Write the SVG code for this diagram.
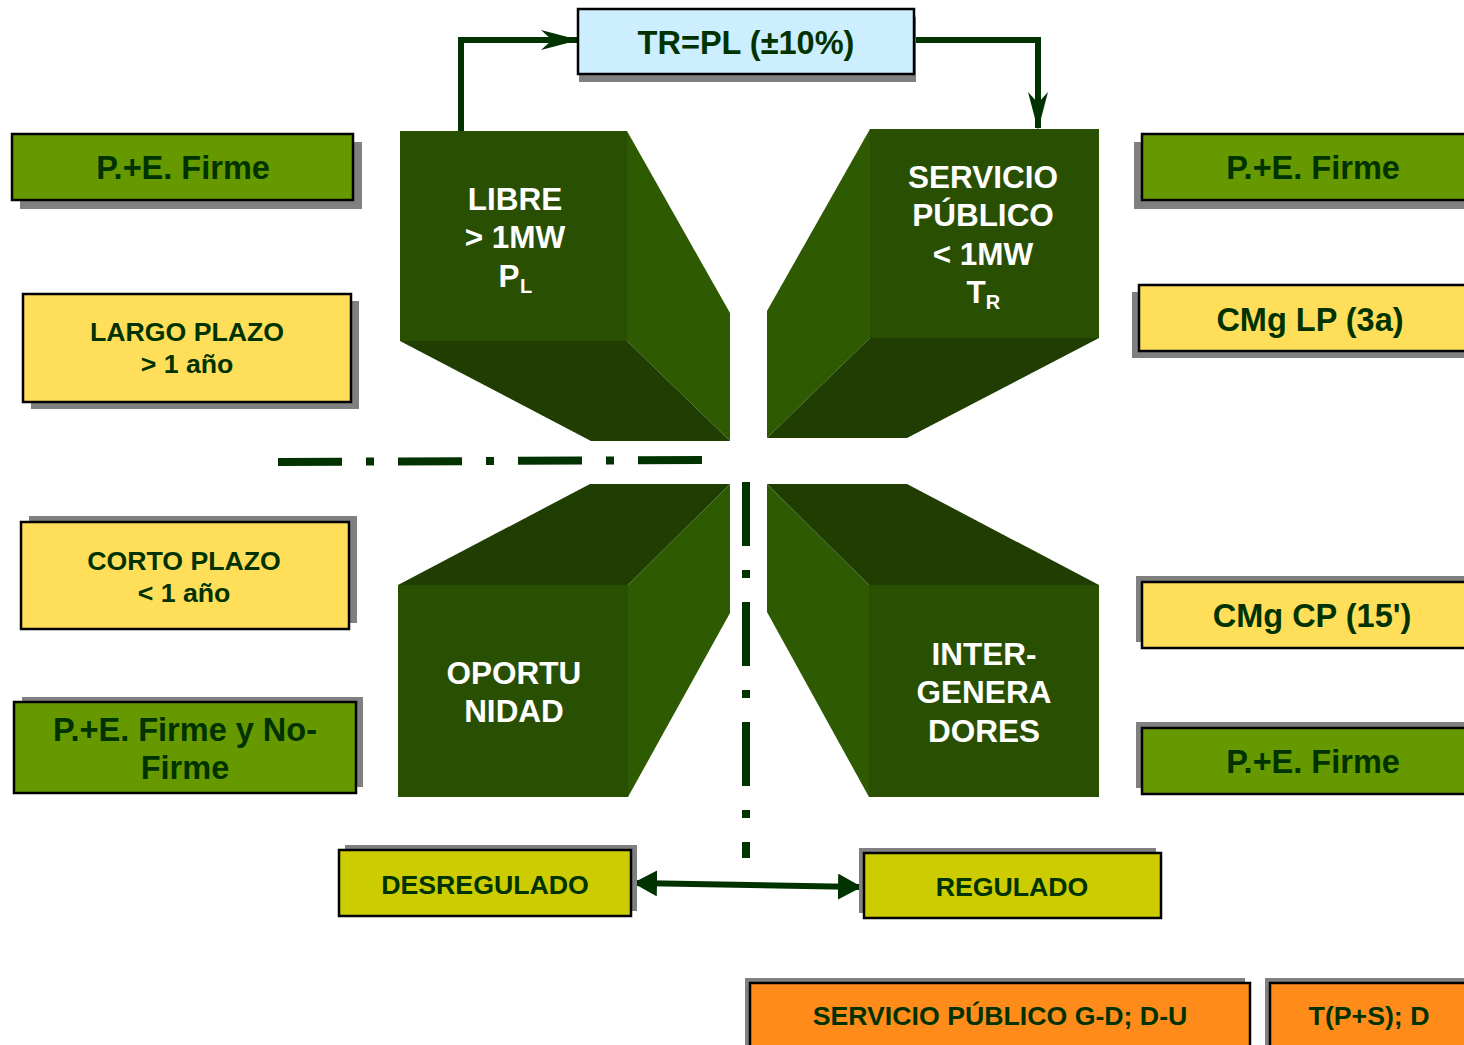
<svg xmlns="http://www.w3.org/2000/svg" width="1464" height="1045" viewBox="0 0 1464 1045">
<style>
text{font-family:"Liberation Sans",Arial,sans-serif;font-weight:bold;text-anchor:middle;dominant-baseline:central}
.w{fill:#ffffff;font-size:31.5px}
.t{fill:#003300}
.big{font-size:32.5px}
.sm{font-size:26.7px}
.front{fill:#294f02}
.side{fill:#2e5a01}
.dark{fill:#203d02}
.sh{fill:#808080}
.box{stroke:#000;stroke-width:2.5}
.g{fill:#669900}
.y{fill:#ffde59}
.b{fill:#cceeff}
.o{fill:#ff8c1a}
.k{fill:#cccc00}
.conn{fill:none;stroke:#003300;stroke-width:6}
.dd{fill:none;stroke:#003300;stroke-width:8;stroke-dasharray:64 24 8 24}
</style>
<defs>
<marker id="stealth" markerUnits="userSpaceOnUse" viewBox="0 0 38 24" refX="36" refY="12" markerWidth="38" markerHeight="24" orient="auto">
<path d="M0,2 L38,12 L0,22 L11,12 Z" fill="#003300"/>
</marker>
<marker id="tri" markerUnits="userSpaceOnUse" viewBox="0 0 24 26" refX="22" refY="13" markerWidth="24" markerHeight="26" orient="auto-start-reverse">
<path d="M0,0 L24,13 L0,26 Z" fill="#003300"/>
</marker>
</defs>

<g id="connectors">
<path class="conn" d="M461,131 V40 H577" marker-end="url(#stealth)"/>
<path class="conn" d="M914,40 H1038 V128" marker-end="url(#stealth)"/>
<path class="dd" d="M278,462 L702,460"/>
<path class="dd" d="M746,482 V858"/>
<path class="conn" d="M635,883 L860,887" marker-start="url(#tri)" marker-end="url(#tri)"/>
</g>

<g id="libre">
<polygon class="side" points="627,131 730,313 730,441 627,341"/>
<polygon class="dark" points="400,341 627,341 730,441 591,441"/>
<rect class="front" x="400" y="131" width="227" height="210"/>
<text class="w" x="515" y="199">LIBRE</text>
<text class="w" x="515" y="237">&gt; 1MW</text>
<text class="w" x="509" y="276">P</text>
<text x="526" y="286" fill="#fff" style="font-size:20px">L</text>
</g>

<g id="servicio">
<polygon class="side" points="870,129 767,311 767,438 870,338"/>
<polygon class="dark" points="767,438 870,338 1099,338 907,438"/>
<rect class="front" x="870" y="129" width="229" height="209"/>
<text class="w" x="983" y="177">SERVICIO</text>
<text class="w" x="983" y="215">PÚBLICO</text>
<text class="w" x="983" y="254">&lt; 1MW</text>
<text class="w" x="976" y="292">T</text>
<text x="993" y="302" fill="#fff" style="font-size:20px">R</text>
</g>

<g id="oportunidad">
<polygon class="dark" points="398,585 590,484 730,484 628,585"/>
<polygon class="side" points="628,585 730,484 730,613 628,797"/>
<rect class="front" x="398" y="585" width="230" height="212"/>
<text class="w" x="514" y="673">OPORTU</text>
<text class="w" x="514" y="711">NIDAD</text>
</g>

<g id="intergeneradores">
<polygon class="dark" points="767,484 907,484 1099,585 869,585"/>
<polygon class="side" points="767,484 869,585 869,797 767,612"/>
<rect class="front" x="869" y="585" width="230" height="212"/>
<text class="w" x="984" y="654">INTER-</text>
<text class="w" x="984" y="692">GENERA</text>
<text class="w" x="984" y="731">DORES</text>
</g>

<g id="tr-pl">
<rect class="sh" x="579" y="17" width="337" height="65"/>
<rect class="box b" x="578" y="9" width="336" height="65"/>
<text class="t big" x="746" y="43">TR=PL (±10%)</text>
</g>

<g id="pe-firme-left">
<rect class="sh" x="20" y="142" width="342" height="67"/>
<rect class="box g" x="12" y="134" width="341" height="66"/>
<text class="t big" x="183" y="168">P.+E. Firme</text>
</g>

<g id="largo-plazo">
<rect class="sh" x="31" y="301" width="328" height="108"/>
<rect class="box y" x="23" y="294" width="328" height="108"/>
<text class="t sm" x="187" y="332">LARGO PLAZO</text>
<text class="t sm" x="187" y="364">&gt; 1 año</text>
</g>

<g id="corto-plazo">
<rect class="sh" x="29" y="516" width="328" height="107"/>
<rect class="box y" x="21" y="522" width="328" height="107"/>
<text class="t sm" x="184" y="561">CORTO PLAZO</text>
<text class="t sm" x="184" y="593">&lt; 1 año</text>
</g>

<g id="pe-firme-nofirme">
<rect class="sh" x="22" y="697" width="341" height="90"/>
<rect class="box g" x="14" y="702" width="342" height="91"/>
<text class="t big" x="185" y="730">P.+E. Firme y No-</text>
<text class="t big" x="185" y="768">Firme</text>
</g>

<g id="pe-firme-right">
<rect class="sh" x="1134" y="142" width="340" height="67"/>
<rect class="box g" x="1142" y="134" width="340" height="66"/>
<text class="t big" x="1313" y="168">P.+E. Firme</text>
</g>

<g id="cmg-lp">
<rect class="sh" x="1132" y="292" width="340" height="66"/>
<rect class="box y" x="1139" y="285" width="340" height="66"/>
<text class="t big" x="1310" y="320">CMg LP (3a)</text>
</g>

<g id="cmg-cp">
<rect class="sh" x="1136" y="576" width="340" height="66"/>
<rect class="box y" x="1142" y="582" width="340" height="66"/>
<text class="t big" x="1312" y="616">CMg CP (15')</text>
</g>

<g id="pe-firme-right2">
<rect class="sh" x="1136" y="722" width="340" height="66"/>
<rect class="box g" x="1142" y="728" width="340" height="66"/>
<text class="t big" x="1313" y="762">P.+E. Firme</text>
</g>

<g id="desregulado">
<rect class="sh" x="345" y="845" width="292" height="66"/>
<rect class="box k" x="339" y="850" width="292" height="66"/>
<text class="t sm" x="485" y="885">DESREGULADO</text>
</g>

<g id="regulado">
<rect class="sh" x="859" y="848" width="297" height="65"/>
<rect class="box k" x="864" y="853" width="297" height="65"/>
<text class="t sm" x="1012" y="887">REGULADO</text>
</g>

<g id="servicio-publico-gd">
<rect class="sh" x="745" y="978" width="500" height="70"/>
<rect class="box o" x="750" y="983" width="500" height="70"/>
<text class="t sm" x="1000" y="1016">SERVICIO PÚBLICO G-D; D-U</text>
</g>

<g id="tps-d">
<rect class="sh" x="1265" y="978" width="210" height="70"/>
<rect class="box o" x="1270" y="983" width="210" height="70"/>
<text class="t sm" x="1369" y="1016">T(P+S); D</text>
</g>
</svg>
